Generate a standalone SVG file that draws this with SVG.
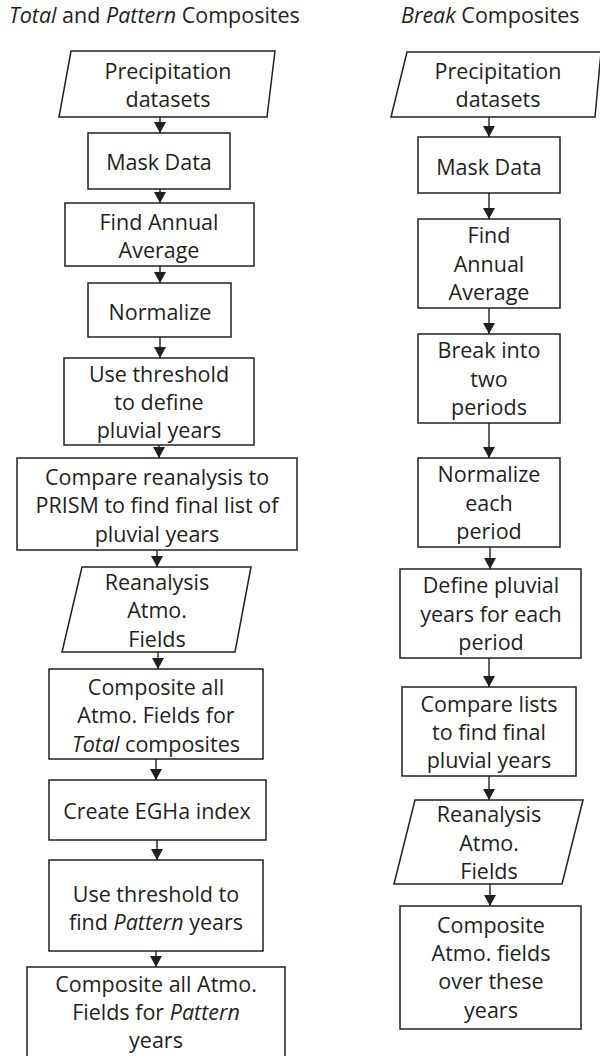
<svg xmlns="http://www.w3.org/2000/svg" width="600" height="1056" viewBox="0 0 600 1056">
<defs>
<marker id="arr" markerUnits="userSpaceOnUse" markerWidth="11" markerHeight="12" refX="11" refY="6" orient="auto">
<path d="M0,0 L11,6 L0,12 z" fill="#231f20"/>
</marker>
<style>
.box{fill:#fff;stroke:#231f20;stroke-width:1.5}
.t{font-family:"Open Sans","Liberation Sans",sans-serif;font-size:21.5px;fill:#231f20;text-anchor:middle}
.ti{font-family:"Open Sans","Liberation Sans",sans-serif;font-size:21.5px;fill:#231f20}
.i{font-style:italic}
.c{stroke:#231f20;stroke-width:1.4;fill:none;marker-end:url(#arr)}
</style>
</defs>
<rect width="600" height="1056" fill="#fff"/>
<g id="title-left"><text class="ti" x="9" y="23"><tspan class="i">Total</tspan> and <tspan class="i">Pattern</tspan> Composites</text></g>
<g id="title-right"><text class="ti" x="401" y="23"><tspan class="i">Break</tspan> Composites</text></g>

<g id="connectors">
<line class="c" x1="160" y1="117" x2="160" y2="133"/>
<line class="c" x1="160" y1="189" x2="160" y2="203"/>
<line class="c" x1="160" y1="266" x2="160" y2="283"/>
<line class="c" x1="160" y1="337" x2="160" y2="358"/>
<line class="c" x1="159" y1="445" x2="159" y2="458"/>
<line class="c" x1="157" y1="550" x2="157" y2="567"/>
<line class="c" x1="158" y1="652" x2="158" y2="669"/>
<line class="c" x1="156" y1="759" x2="156" y2="780"/>
<line class="c" x1="157" y1="840" x2="157" y2="860"/>
<line class="c" x1="156" y1="951" x2="156" y2="967"/>
<line class="c" x1="489" y1="117" x2="489" y2="137"/>
<line class="c" x1="489" y1="193" x2="489" y2="219"/>
<line class="c" x1="489" y1="308" x2="489" y2="334"/>
<line class="c" x1="489" y1="423" x2="489" y2="458"/>
<line class="c" x1="490" y1="547" x2="490" y2="569"/>
<line class="c" x1="489" y1="648" x2="489" y2="687"/>
<line class="c" x1="489" y1="776" x2="489" y2="800"/>
<line class="c" x1="490" y1="884" x2="490" y2="906"/>
</g>

<g id="L1"><polygon class="box" points="71,51 275,51 267,117 59,117"/><text class="t" x="168" y="79">Precipitation</text><text class="t" x="168" y="107">datasets</text></g>
<g id="L2"><rect class="box" x="88" y="133" width="142" height="56"/><text class="t" x="159" y="170">Mask Data</text></g>
<g id="L3"><rect class="box" x="65" y="203" width="189" height="63"/><text class="t" x="159" y="230">Find Annual</text><text class="t" x="159" y="258">Average</text></g>
<g id="L4"><rect class="box" x="88" y="283" width="143" height="54"/><text class="t" x="160" y="320">Normalize</text></g>
<g id="L5"><rect class="box" x="64" y="358" width="190" height="87"/><text class="t" x="159" y="382">Use threshold</text><text class="t" x="159" y="410">to define</text><text class="t" x="159" y="438">pluvial years</text></g>
<g id="L6"><rect class="box" x="17" y="458" width="280" height="92"/><text class="t" x="157" y="485">Compare reanalysis to</text><text class="t" x="157" y="513">PRISM to find final list of</text><text class="t" x="157" y="542">pluvial years</text></g>
<g id="L7"><polygon class="box" points="82,567 251,567 235,652 62,652"/><text class="t" x="157" y="590">Reanalysis</text><text class="t" x="157" y="618">Atmo.</text><text class="t" x="157" y="647">Fields</text></g>
<g id="L8"><rect class="box" x="49" y="669" width="214" height="90"/><text class="t" x="156" y="695">Composite all</text><text class="t" x="156" y="723">Atmo. Fields for</text><text class="t" x="156" y="752"><tspan class="i">Total</tspan> composites</text></g>
<g id="L9"><rect class="box" x="49" y="780" width="217" height="60"/><text class="t" x="157" y="819">Create EGHa index</text></g>
<g id="L10"><rect class="box" x="49" y="860" width="214" height="91"/><text class="t" x="156" y="902">Use threshold to</text><text class="t" x="156" y="930">find <tspan class="i">Pattern</tspan> years</text></g>
<g id="L11"><rect class="box" x="27" y="967" width="258" height="100"/><text class="t" x="156" y="992">Composite all Atmo.</text><text class="t" x="156" y="1020">Fields for <tspan class="i">Pattern</tspan></text><text class="t" x="156" y="1048">years</text></g>

<g id="R1"><polygon class="box" points="407,52 601,52 595,117 391,117"/><text class="t" x="498" y="79">Precipitation</text><text class="t" x="498" y="107">datasets</text></g>
<g id="R2"><rect class="box" x="418" y="137" width="142" height="56"/><text class="t" x="489" y="175">Mask Data</text></g>
<g id="R3"><rect class="box" x="418" y="219" width="142" height="89"/><text class="t" x="489" y="243">Find</text><text class="t" x="489" y="272">Annual</text><text class="t" x="489" y="300">Average</text></g>
<g id="R4"><rect class="box" x="418" y="334" width="142" height="89"/><text class="t" x="489" y="358">Break into</text><text class="t" x="489" y="387">two</text><text class="t" x="489" y="415">periods</text></g>
<g id="R5"><rect class="box" x="418" y="458" width="142" height="89"/><text class="t" x="489" y="482">Normalize</text><text class="t" x="489" y="511">each</text><text class="t" x="489" y="539">period</text></g>
<g id="R6"><rect class="box" x="400" y="569" width="181" height="89"/><text class="t" x="491" y="593">Define pluvial</text><text class="t" x="491" y="622">years for each</text><text class="t" x="491" y="650">period</text></g>
<g id="R7"><rect class="box" x="402" y="687" width="174" height="89"/><text class="t" x="489" y="712">Compare lists</text><text class="t" x="489" y="740">to find final</text><text class="t" x="489" y="768">pluvial years</text></g>
<g id="R8"><polygon class="box" points="415,800 583,800 562,884 394,884"/><text class="t" x="489" y="822">Reanalysis</text><text class="t" x="489" y="851">Atmo.</text><text class="t" x="489" y="879">Fields</text></g>
<g id="R9"><rect class="box" x="400" y="906" width="181" height="123"/><text class="t" x="491" y="933">Composite</text><text class="t" x="491" y="961">Atmo. fields</text><text class="t" x="491" y="989">over these</text><text class="t" x="491" y="1018">years</text></g>
</svg>
